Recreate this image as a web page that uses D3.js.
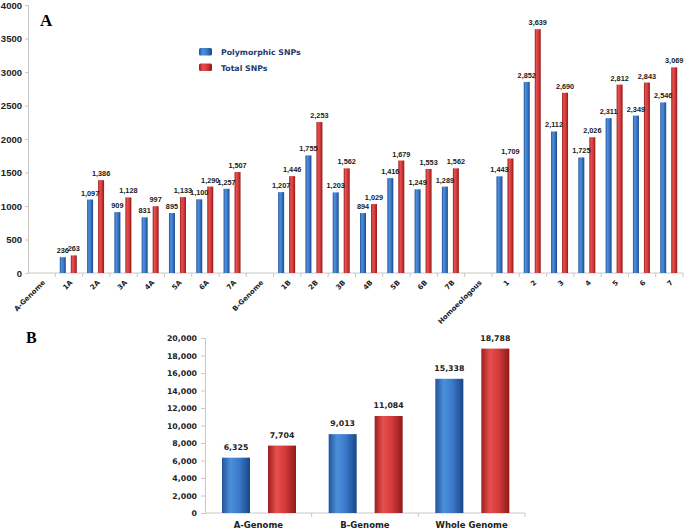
<!DOCTYPE html>
<html>
<head>
<meta charset="utf-8">
<script src="https://cdn.jsdelivr.net/npm/d3@7"></script>
<style>
  body { margin: 0; background: #fff; }
  svg { display: block; }
</style>
</head>
<body>
<script>
// panel A data
let categoriesA = ["A-Genome", "1A", "2A", "3A", "4A", "5A", "6A", "7A",
  "B-Genome", "1B", "2B", "3B", "4B", "5B", "6B", "7B",
  "Homoeologous", "1", "2", "3", "4", "5", "6", "7"];
let polyA = [null, 236, 1097, 909, 831, 895, 1100, 1257,
  null, 1207, 1755, 1203, 894, 1416, 1249, 1289,
  null, 1443, 2852, 2112, 1725, 2311, 2349, 2546];
let totalA = [null, 263, 1386, 1128, 997, 1133, 1290, 1507,
  null, 1446, 2253, 1562, 1029, 1679, 1553, 1562,
  null, 1709, 3639, 2690, 2026, 2812, 2843, 3069];
let ticksA = [0, 500, 1000, 1500, 2000, 2500, 3000, 3500, 4000];

// panel B data
let categoriesB = ["A-Genome", "B-Genome", "Whole Genome"];
let polyB = [6325, 9013, 15338];
let totalB = [7704, 11084, 18788];
let ticksB = [0, 2000, 4000, 6000, 8000, 10000, 12000, 14000, 16000, 18000, 20000];

let series = ["Polymorphic SNPs", "Total SNPs"];

const width = 685, height = 530;
const svg = d3.select("body").append("svg")
  .attr("width", width)
  .attr("height", height);

//gradients for the glossy bars
let defs = svg.append("defs");
function grad(id, stops) {
  let g = defs.append("linearGradient").attr("id", id)
    .attr("x1", "0%").attr("x2", "100%").attr("y1", "0%").attr("y2", "0%");
  stops.forEach(s => g.append("stop").attr("offset", s[0]).attr("stop-color", s[1]));
}
grad("gBlue", [["0%", "#22549a"], ["30%", "#4d8fdc"], ["60%", "#3b7acb"], ["100%", "#1b4787"]]);
grad("gRed", [["0%", "#9e1e1e"], ["30%", "#e5504f"], ["60%", "#d63b3b"], ["100%", "#8f1a1a"]]);
let fills = { "Polymorphic SNPs": "url(#gBlue)", "Total SNPs": "url(#gRed)" };

const fontTick = "'Liberation Sans', Arial, sans-serif";
const fontB = "'DejaVu Sans', Verdana, sans-serif";

// ---------- panel A ----------
let xA = d3.scaleBand().domain(categoriesA).range([28, 683]);
let sA = d3.scaleBand().domain(series).range([4.5, 21.5]).paddingInner(0.455);
let yA = d3.scaleLinear().domain([0, 4000]).range([273, 5]);

let yAxisA = d3.axisLeft(yA).tickValues(ticksA).tickSize(3).tickFormat(d3.format("d"));
let gyA = svg.append("g").attr("transform", "translate(28,0)").call(yAxisA);
gyA.selectAll("path, line").attr("stroke", "#c8c8c8");
gyA.selectAll("text")
  .attr("x", -6)
  .style("font-family", fontTick)
  .style("font-weight", "bold")
  .style("font-size", "9.5px")
  .attr("fill", "#222");

// x axis line with boundary ticks
let gxA = svg.append("g");
gxA.append("line")
  .attr("x1", xA.range()[0]).attr("x2", xA.range()[1])
  .attr("y1", yA(0)).attr("y2", yA(0))
  .attr("stroke", "#c8c8c8");
gxA.selectAll(".tk").data(categoriesA).enter().append("line")
  .attr("x1", d => xA(d) + xA.bandwidth()).attr("x2", d => xA(d) + xA.bandwidth())
  .attr("y1", yA(0)).attr("y2", yA(0) + 4)
  .attr("stroke", "#c8c8c8");
gxA.selectAll(".lbl").data(categoriesA).enter().append("text")
  .attr("class", "lbl")
  .attr("transform", d => "translate(" + (xA(d) + xA.bandwidth() / 2 + 4) + "," + (yA(0) + 10) + ") rotate(-45)")
  .attr("text-anchor", "end")
  .style("font-family", fontB)
  .style("font-weight", "bold")
  .style("font-size", "7px")
  .attr("fill", "#222")
  .text(d => d);

let rowsA = [];
categoriesA.forEach((c, i) => {
  if (polyA[i] != null) rowsA.push({ cat: c, s: series[0], v: polyA[i] });
  if (totalA[i] != null) rowsA.push({ cat: c, s: series[1], v: totalA[i] });
});

svg.append("g").selectAll("rect").data(rowsA).enter().append("rect")
  .attr("x", d => xA(d.cat) + sA(d.s))
  .attr("y", d => yA(d.v))
  .attr("width", sA.bandwidth())
  .attr("height", d => yA(0) - yA(d.v))
  .attr("fill", d => fills[d.s]);

svg.append("g").selectAll("text").data(rowsA).enter().append("text")
  .attr("x", d => xA(d.cat) + sA(d.s) + sA.bandwidth() / 2)
  .attr("y", d => yA(d.v) - 4)
  .attr("text-anchor", "middle")
  .style("font-family", fontTick)
  .style("font-weight", "bold")
  .style("font-size", "7.3px")
  .attr("fill", "#1a1a1a")
  .text(d => d3.format(",")(d.v));

// legend
let legend = svg.append("g").attr("transform", "translate(199,48)");
series.forEach((s, i) => {
  legend.append("rect")
    .attr("x", 0).attr("y", i * 15.5)
    .attr("width", 13).attr("height", 7.5)
    .attr("rx", 1.5)
    .attr("fill", fills[s]);
  legend.append("text")
    .attr("x", 22).attr("y", i * 15.5 + 7)
    .style("font-family", fontB)
    .style("font-weight", "bold")
    .style("font-size", "7.8px")
    .attr("fill", "#1f3a6e")
    .text(s);
});

svg.append("text")
  .attr("x", 40).attr("y", 26)
  .style("font-family", "'Liberation Serif', 'Times New Roman', serif")
  .style("font-weight", "bold")
  .style("font-size", "17px")
  .text("A");

// ---------- panel B ----------
let xB = d3.scaleBand().domain(categoriesB).range([205, 525]);
let sB = d3.scaleBand().domain(series).range([17, 91]).paddingInner(0.391);
let yB = d3.scaleLinear().domain([0, 20000]).range([513, 338]);

let yAxisB = d3.axisLeft(yB).tickValues(ticksB).tickSize(4).tickFormat(d3.format(","));
let gyB = svg.append("g").attr("transform", "translate(205,0)").call(yAxisB);
gyB.selectAll("path, line").attr("stroke", "#c8c8c8");
gyB.selectAll("text")
  .attr("x", -8)
  .style("font-family", fontB)
  .style("font-weight", "bold")
  .style("font-size", "7.8px")
  .attr("fill", "#222");

let gxB = svg.append("g");
gxB.append("line")
  .attr("x1", xB.range()[0]).attr("x2", xB.range()[1])
  .attr("y1", yB(0)).attr("y2", yB(0))
  .attr("stroke", "#c8c8c8");
gxB.selectAll(".tk").data(categoriesB).enter().append("line")
  .attr("x1", d => xB(d) + xB.bandwidth()).attr("x2", d => xB(d) + xB.bandwidth())
  .attr("y1", yB(0)).attr("y2", yB(0) + 4)
  .attr("stroke", "#c8c8c8");
gxB.selectAll(".lbl").data(categoriesB).enter().append("text")
  .attr("class", "lbl")
  .attr("x", d => xB(d) + xB.bandwidth() / 2)
  .attr("y", 528)
  .attr("text-anchor", "middle")
  .style("font-family", fontB)
  .style("font-weight", "bold")
  .style("font-size", "8.5px")
  .attr("fill", "#222")
  .text(d => d);

let rowsB = [];
categoriesB.forEach((c, i) => {
  rowsB.push({ cat: c, s: series[0], v: polyB[i] });
  rowsB.push({ cat: c, s: series[1], v: totalB[i] });
});

svg.append("g").selectAll("rect").data(rowsB).enter().append("rect")
  .attr("x", d => xB(d.cat) + sB(d.s))
  .attr("y", d => yB(d.v))
  .attr("width", sB.bandwidth())
  .attr("height", d => yB(0) - yB(d.v))
  .attr("fill", d => fills[d.s]);

svg.append("g").selectAll("text").data(rowsB).enter().append("text")
  .attr("x", d => xB(d.cat) + sB(d.s) + sB.bandwidth() / 2)
  .attr("y", d => yB(d.v) - 8)
  .attr("text-anchor", "middle")
  .style("font-family", fontB)
  .style("font-weight", "bold")
  .style("font-size", "7.8px")
  .attr("fill", "#222")
  .text(d => d3.format(",")(d.v));

svg.append("text")
  .attr("x", 26).attr("y", 343)
  .style("font-family", "'Liberation Serif', 'Times New Roman', serif")
  .style("font-weight", "bold")
  .style("font-size", "16px")
  .text("B");
</script>
</body>
</html>
